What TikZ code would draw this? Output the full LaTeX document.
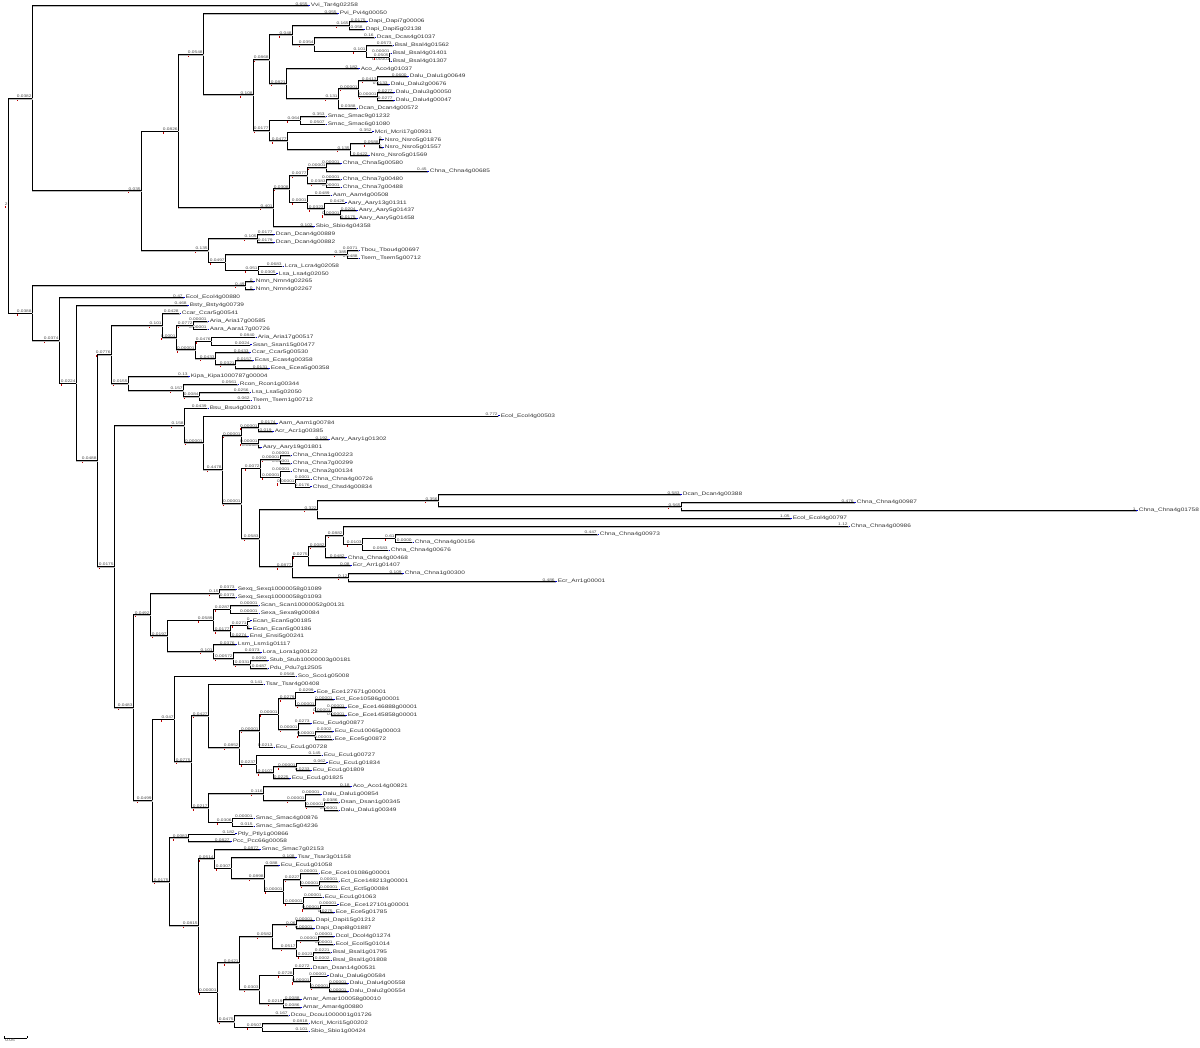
\documentclass[tikz,border=0pt]{standalone}
\usepackage{fontspec}
\setmainfont{Liberation Sans}
\newfontfamily\widefam[FakeStretch=1.3]{Liberation Sans}
\usepackage{tikz}
\usetikzlibrary{calc}
\newcommand{\blenfont}{\widefam\fontsize{3.7}{3.7}\selectfont}
\newcommand{\taxfont}{\widefam\fontsize{5.0}{5.0}\selectfont}
\tikzset{
  branch/.style={line width=0.6pt, black, line cap=rect,
    preaction={draw, gray!55, line width=1.2pt, transform canvas={shift={(0.6pt,-0.8pt)}}}},
  blenlbl/.style={font=\blenfont, text=black!70, inner sep=0.2pt, anchor=south east},
  taxlbl/.style={font=\taxfont, text=black!80, inner sep=0.3pt, anchor=west},
  tipmark/.style={blue!80!black, line width=0.8pt},
  bootmark/.style={red!75!black, line width=0.45pt},
}
% leaf: index, end x, branch length, taxon
\newcommand{\tip}[4]{%
  \coordinate (t#1) at (#2,{5.7+7.887*(#1-1)});
  \draw[tipmark] (t#1) -- ++(2,0);
  \node[blenlbl] at (t#1) {#3};
  \node[taxlbl] at ($(t#1)+(2.4,0)$) {#4};
}
% inner node: name, x, first child, last child, branch length
\newcommand{\clade}[5]{%
  \coordinate (#1-mid) at ($(#3)!.5!(#4)$);
  \coordinate (#1) at (#2,0 |- #1-mid);
  \draw[branch] (#1) |- (#3);
  \draw[branch] (#1) |- (#4);
  \node[blenlbl] (#1-lbl) at (#1) {#5};
  \draw[bootmark] ($(#1-lbl.south west)+(0.5,0.6)$) -- ++(0,2.2);
}

\begin{document}
\begin{tikzpicture}[x=1pt,y=-1pt]
  \useasboundingbox (0,0) rectangle (1200,1048);
  % Leaves
  \tip{1}{308}{0.655}{Vvi\_Tar4g02258}
  \tip{2}{337}{0.055}{Pvi\_Pvi4g00050}
  \tip{3}{366}{0.0175}{Dapi\_Dapi7g00006}
  \tip{4}{363}{0.058}{Dapi\_Dapi5g02138}
  \tip{5}{374}{0.16}{Dcas\_Dcas4g01037}
  \tip{6}{392}{0.0573}{Bsal\_Bsal4g01562}
  \tip{7}{390}{0.00001}{Bsal\_Bsal4g01401}
  \tip{8}{390}{0.00001}{Bsal\_Bsal4g01307}
  \tip{9}{358}{0.182}{Aco\_Aco4g01037}
  \tip{10}{407}{0.0600}{Dalu\_Dalu1g00649}
  \tip{11}{388}{0.0133}{Dalu\_Dalu2g00676}
  \tip{12}{393}{0.0277}{Dalu\_Dalu3g00050}
  \tip{13}{393}{0.0277}{Dalu\_Dalu4g00047}
  \tip{14}{356}{0.0388}{Dcan\_Dcan4g00572}
  \tip{15}{325}{0.353}{Smac\_Smac9g01232}
  \tip{16}{325}{0.0507}{Smac\_Smac6g01080}
  \tip{17}{372}{0.352}{Mcri\_Mcri17g00931}
  \tip{18}{382}{0}{Nsro\_Nsro5g01876}
  \tip{19}{382}{0}{Nsro\_Nsro5g01557}
  \tip{20}{368}{0.0422}{Nsro\_Nsro5g01569}
  \tip{21}{340}{0.00001}{Chna\_Chna5g00580}
  \tip{22}{427}{0.45}{Chna\_Chna4g00685}
  \tip{23}{340}{0.00001}{Chna\_Chna7g00480}
  \tip{24}{340}{0.00001}{Chna\_Chna7g00488}
  \tip{25}{330}{0.0489}{Aam\_Aam4g00508}
  \tip{26}{345}{0.0426}{Aary\_Aary13g01311}
  \tip{27}{356}{0.0204}{Aary\_Aary5g01437}
  \tip{28}{356}{0.0175}{Aary\_Aary5g01458}
  \tip{29}{313}{0.102}{Sbio\_Sbio4g04358}
  \tip{30}{273}{0.0177}{Dcan\_Dcan4g00889}
  \tip{31}{273}{0.0179}{Dcan\_Dcan4g00882}
  \tip{32}{358}{0.0071}{Tbou\_Tbou4g00697}
  \tip{33}{358}{0.0488}{Tsem\_Tsem5g00712}
  \tip{34}{282}{0.0683}{Lcra\_Lcra4g02058}
  \tip{35}{276}{0.0305}{Lsa\_Lsa4g02050}
  \tip{36}{253}{0}{Nmn\_Nmn4g02265}
  \tip{37}{253}{0}{Nmn\_Nmn4g02267}
  \tip{38}{183}{0.47}{Ecol\_Ecol4g00880}
  \tip{39}{187}{0.468}{Bsty\_Bsty4g00739}
  \tip{40}{179}{0.0428}{Ccar\_Ccar5g00541}
  \tip{41}{207}{0.00001}{Aria\_Aria17g00585}
  \tip{42}{207}{0.00001}{Aara\_Aara17g00726}
  \tip{43}{255}{0.0840}{Aria\_Aria17g00517}
  \tip{44}{250}{0.0024}{Ssan\_Ssan15g00477}
  \tip{45}{249}{0.0433}{Ccar\_Ccar5g00530}
  \tip{46}{252}{0.0157}{Ecas\_Ecas4g00358}
  \tip{47}{268}{0.0131}{Ecea\_Ecea5g00358}
  \tip{48}{188}{0.13}{Kipa\_Kipa1000787g00004}
  \tip{49}{237}{0.0561}{Rcon\_Rcon1g00344}
  \tip{50}{249}{0.0256}{Lsa\_Lsa5g02050}
  \tip{51}{250}{0.062}{Tsem\_Tsem1g00712}
  \tip{52}{207}{0.0439}{Bsu\_Bsu4g00201}
  \tip{53}{498}{0.772}{Ecol\_Ecol4g00503}
  \tip{54}{276}{0.0174}{Aam\_Aam1g00784}
  \tip{55}{272}{0.019}{Acr\_Acr1g00385}
  \tip{56}{328}{0.192}{Aary\_Aary1g01302}
  \tip{57}{260}{0.00001}{Aary\_Aary19g01801}
  \tip{58}{290}{0.00001}{Chna\_Chna1g00223}
  \tip{59}{290}{0.00001}{Chna\_Chna7g00299}
  \tip{60}{290}{0.00001}{Chna\_Chna2g00134}
  \tip{61}{310}{0.0001}{Chna\_Chna4g00726}
  \tip{62}{310}{0.0176}{Chsd\_Chsd4g00834}
  \tip{63}{680}{0.583}{Dcan\_Dcan4g00388}
  \tip{64}{854}{0.476}{Chna\_Chna4g00987}
  \tip{65}{1136}{1}{Chna\_Chna4g01758}
  \tip{66}{790}{1.05}{Ecol\_Ecol4g00797}
  \tip{67}{848}{1.12}{Chna\_Chna4g00986}
  \tip{68}{597}{0.447}{Chna\_Chna4g00973}
  \tip{69}{412}{0.0000}{Chna\_Chna4g00156}
  \tip{70}{388}{0.0583}{Chna\_Chna4g00676}
  \tip{71}{345}{0.0482}{Chna\_Chna4g00468}
  \tip{72}{350}{0.08}{Ecr\_Arr1g01407}
  \tip{73}{402}{0.109}{Chna\_Chna1g00300}
  \tip{74}{555}{0.486}{Ecr\_Arr1g00001}
  \tip{75}{235}{0.0373}{Sexq\_Sexq10000058g01089}
  \tip{76}{235}{0.0373}{Sexq\_Sexq10000058g01093}
  \tip{77}{258}{0.00001}{Scan\_Scan10000052g00131}
  \tip{78}{258}{0.00001}{Sexa\_Sexa9g00084}
  \tip{79}{250}{0}{Ecan\_Ecan5g00185}
  \tip{80}{250}{0}{Ecan\_Ecan5g00186}
  \tip{81}{247}{0.0274}{Ensi\_Ensi5g00241}
  \tip{82}{235}{0.0376}{Lsm\_Lsm1g01117}
  \tip{83}{260}{0.0373}{Lora\_Lora1g00122}
  \tip{84}{267}{0.0092}{Stub\_Stub10000003g00181}
  \tip{85}{267}{0.0487}{Pdu\_Pdu7g12505}
  \tip{86}{295}{0.0568}{Sco\_Sco1g05008}
  \tip{87}{263}{0.141}{Tsar\_Tsar4g00408}
  \tip{88}{314}{0.0299}{Ece\_Ece127671g00001}
  \tip{89}{333}{0.00001}{Ect\_Ece10586g00001}
  \tip{90}{345}{0.00001}{Ece\_Ece146888g00001}
  \tip{91}{345}{0.00001}{Ece\_Ece145858g00001}
  \tip{92}{310}{0.0273}{Ecu\_Ecu4g00877}
  \tip{93}{332}{0.0302}{Ecu\_Ecu10065g00003}
  \tip{94}{332}{0.00001}{Ece\_Ece5g00872}
  \tip{95}{273}{0.0213}{Ecu\_Ecu1g00728}
  \tip{96}{321}{0.145}{Ecu\_Ecu1g00727}
  \tip{97}{326}{0.062}{Ecu\_Ecu1g01834}
  \tip{98}{310}{0.0233}{Ecu\_Ecu1g01809}
  \tip{99}{289}{0.0225}{Ecu\_Ecu1g01825}
  \tip{100}{350}{0.18}{Aco\_Aco14g00821}
  \tip{101}{320}{0.00001}{Dalu\_Dalu1g00854}
  \tip{102}{338}{0.0386}{Dsan\_Dsan1g00345}
  \tip{103}{338}{0.00001}{Dalu\_Dalu1g00349}
  \tip{104}{253}{0.00001}{Smac\_Smac4g00876}
  \tip{105}{253}{0.015}{Smac\_Smac5g04236}
  \tip{106}{235}{0.182}{Ptly\_Ptly1g00866}
  \tip{107}{230}{0.0827}{Pcc\_Pcc66g00058}
  \tip{108}{259}{0.0877}{Smac\_Smac7g02153}
  \tip{109}{295}{0.108}{Tsar\_Tsar3g01158}
  \tip{110}{278}{0.088}{Ecu\_Ecu1g01058}
  \tip{111}{318}{0.00001}{Ece\_Ece101086g00001}
  \tip{112}{338}{0.00001}{Ect\_Ece148213g00001}
  \tip{113}{338}{0.00001}{Ect\_Ect5g00084}
  \tip{114}{322}{0.00001}{Ecu\_Ecu1g01063}
  \tip{115}{337}{0.00001}{Ece\_Ece127101g00001}
  \tip{116}{333}{0.0275}{Ece\_Ece5g01785}
  \tip{117}{313}{0.00001}{Dapi\_Dapi15g01212}
  \tip{118}{313}{0.00001}{Dapi\_Dapi8g01887}
  \tip{119}{333}{0.00001}{Dcol\_Dcol4g01274}
  \tip{120}{333}{0.00001}{Ecol\_Ecol5g01014}
  \tip{121}{330}{0.0221}{Bsal\_Bsal1g01795}
  \tip{122}{330}{0.0002}{Bsal\_Bsal1g01808}
  \tip{123}{310}{0.0272}{Dsan\_Dsan14g00531}
  \tip{124}{327}{0.00001}{Dalu\_Dalu6g00584}
  \tip{125}{347}{0.00001}{Dalu\_Dalu4g00558}
  \tip{126}{347}{0.00001}{Dalu\_Dalu2g00554}
  \tip{127}{300}{0.0088}{Amar\_Amar100058g00010}
  \tip{128}{300}{0.0086}{Amar\_Amar4g00880}
  \tip{129}{288}{0.167}{Dcou\_Dcou1000001g01726}
  \tip{130}{308}{0.0818}{Mcri\_Mcri15g00202}
  \tip{131}{308}{0.101}{Sbio\_Sbio1g00424}
  % Upper clade
  \clade{G1d}{389}{t7}{t8}{0.0505}
  \clade{G1c}{366}{t6}{G1d}{0.101}
  \clade{G1b}{314}{t5}{G1c}{0.0354}
  \clade{G1a}{349}{t3}{t4}{0.165}
  \clade{G1}{292}{G1a}{G1b}{0.048}
  \clade{G2c}{377}{t10}{t11}{0.0413}
  \clade{G2d}{377}{t12}{t13}{0.00001}
  \clade{G2b}{358}{G2c}{G2d}{0.00001}
  \clade{G2a}{338}{G2b}{t14}{0.131}
  \clade{G2}{286}{t9}{G2a}{0.0821}
  \clade{G}{269}{G1}{G2}{0.0868}
  \clade{H1}{300}{t15}{t16}{0.064}
  \clade{H4}{379}{t18}{t19}{0.0588}
  \clade{H3}{350}{H4}{t20}{0.135}
  \clade{H2}{287}{t17}{H3}{0.0477}
  \clade{H}{269}{H1}{H2}{0.0177}
  \clade{F}{253}{G}{H}{0.108}
  \clade{D}{203}{t2}{F}{0.0548}
  \clade{E2a}{326}{t21}{t22}{0.00001}
  \clade{E2b}{326}{t23}{t24}{0.0383}
  \clade{E2}{307}{E2a}{E2b}{0.0077}
  \clade{E3b}{340}{t27}{t28}{0.00001}
  \clade{E3a}{324}{t26}{E3b}{0.0323}
  \clade{E3}{307}{t25}{E3a}{0.0001}
  \clade{E1}{289}{E2}{E3}{0.0308}
  \clade{E}{273}{E1}{t29}{0.401}
  \clade{C}{178}{D}{E}{0.0826}
  \clade{K1}{257}{t30}{t31}{0.105}
  \clade{K3}{347}{t32}{t33}{0.385}
  \clade{K4}{258}{t34}{t35}{0.051}
  \clade{K2}{225}{K3}{K4}{0.0497}
  \clade{K}{208}{K1}{K2}{0.135}
  \clade{B}{141}{C}{K}{0.035}
  \clade{A}{32}{t1}{B}{0.0382}
  % Lower clade
  \clade{M1}{245}{t36}{t37}{0.49}
  \clade{M10}{193}{t41}{t42}{0.0772}
  \clade{M12}{211}{t43}{t44}{0.0476}
  \clade{M14}{235}{t46}{t47}{0.0321}
  \clade{M13}{215}{t45}{M14}{0.0433}
  \clade{M11}{195}{M12}{M13}{0.00001}
  \clade{M9}{176}{M10}{M11}{0.0001}
  \clade{M7}{162}{t40}{M9}{0.101}
  \clade{M16}{199}{t50}{t51}{0.0084}
  \clade{M15}{183}{t49}{M16}{0.157}
  \clade{M8}{128}{t48}{M15}{0.0155}
  \clade{M5}{111}{M7}{M8}{0.0776}
  \clade{P5}{258}{t54}{t55}{0.00001}
  \clade{P6}{258}{t56}{t57}{0.00001}
  \clade{P3}{241}{P5}{P6}{0.00001}
  \clade{P9}{280}{t58}{t59}{0.00001}
  \clade{P11}{295}{t61}{t62}{0.00001}
  \clade{P10}{280}{t60}{P11}{0.00001}
  \clade{P7}{260}{P9}{P10}{0.0072}
  \clade{Nc}{681}{t64}{t65}{0.565}
  \clade{Nb}{438}{t63}{Nc}{0.356}
  \clade{Na}{317}{Nb}{t66}{0.322}
  \clade{P18}{395}{t68}{t69}{0.61}
  \clade{P17}{362}{P18}{t70}{0.0103}
  \clade{P16}{343}{t67}{P17}{0.0882}
  \clade{P15}{325}{P16}{t71}{0.0082}
  \clade{P13}{308}{P15}{t72}{0.0275}
  \clade{P14}{348}{t73}{t74}{0.12}
  \clade{P12}{292}{P13}{P14}{0.0877}
  \clade{P8}{259}{Na}{P12}{0.0583}
  \clade{P4}{241}{P7}{P8}{0.00001}
  \clade{P2}{222}{P3}{P4}{0.4478}
  \clade{P1}{203}{t53}{P2}{0.00001}
  \clade{P}{184}{t52}{P1}{0.158}
  \clade{Q3}{219}{t75}{t76}{0.15}
  \clade{Q7}{230}{t77}{t78}{0.0287}
  \clade{Q9}{247}{t79}{t80}{0.0271}
  \clade{Q8}{230}{Q9}{t81}{0.0177}
  \clade{Q5}{213}{Q7}{Q8}{0.0589}
  \clade{Q11}{250}{t84}{t85}{0.0331}
  \clade{Q10}{233}{t83}{Q11}{0.00572}
  \clade{Q6}{213}{t82}{Q10}{0.101}
  \clade{Q4}{167}{Q5}{Q6}{0.0197}
  \clade{Q1}{150}{Q3}{Q4}{0.0492}
  \clade{S11}{331}{t90}{t91}{0.00001}
  \clade{S10}{315}{t89}{S11}{0.00001}
  \clade{S8}{295}{t88}{S10}{0.0279}
  \clade{S12}{315}{t93}{t94}{0.00001}
  \clade{S9}{298}{t92}{S12}{0.00001}
  \clade{S7}{278}{S8}{S9}{0.00001}
  \clade{S5}{259}{S7}{t95}{0.00001}
  \clade{S14}{296}{t97}{t98}{0.00001}
  \clade{S13}{273}{S14}{t99}{0.0107}
  \clade{S6}{256}{t96}{S13}{0.0237}
  \clade{S4}{239}{S5}{S6}{0.0852}
  \clade{S2}{208}{t87}{S4}{0.0427}
  \clade{S18}{324}{t102}{t103}{0.00001}
  \clade{S17}{305}{t101}{S18}{0.00001}
  \clade{S15}{263}{t100}{S17}{0.116}
  \clade{S16}{232}{t104}{t105}{0.0306}
  \clade{S3}{208}{S15}{S16}{0.0217}
  \clade{S1}{191}{S2}{S3}{0.0775}
  \clade{S}{174}{t86}{S1}{0.047}
  \clade{T1}{188}{t106}{t107}{0.0083}
  \clade{T10}{319}{t112}{t113}{0.00001}
  \clade{T8}{300}{t111}{T10}{0.0227}
  \clade{T11}{320}{t115}{t116}{0.00001}
  \clade{T9}{303}{t114}{T11}{0.00001}
  \clade{T7}{283}{T8}{T9}{0.00001}
  \clade{T6}{264}{t110}{T7}{0.0898}
  \clade{T5}{231}{t109}{T6}{0.0307}
  \clade{T3}{214}{t108}{T5}{0.0514}
  \clade{T16}{296}{t117}{t118}{0.06}
  \clade{T18}{318}{t119}{t120}{0.00001}
  \clade{T19}{313}{t121}{t122}{0.0023}
  \clade{T17}{296}{T18}{T19}{0.0517}
  \clade{T14}{272}{T16}{T17}{0.0582}
  \clade{T23}{329}{t125}{t126}{0.00001}
  \clade{T22}{310}{t124}{T23}{0.00001}
  \clade{T20}{293}{t123}{T22}{0.0728}
  \clade{T21}{283}{t127}{t128}{0.0219}
  \clade{T15}{259}{T20}{T21}{0.0303}
  \clade{T12}{239}{T14}{T15}{0.0421}
  \clade{T24}{262}{t130}{t131}{0.0507}
  \clade{T13}{234}{t129}{T24}{0.0475}
  \clade{T4}{217}{T12}{T13}{0.00001}
  \clade{T2}{198}{T3}{T4}{0.0815}
  \clade{T}{169}{T1}{T2}{0.0175}
  \clade{Q2}{152}{S}{T}{0.0499}
  \clade{Q}{133}{Q1}{Q2}{0.0483}
  \clade{M6}{114}{P}{Q}{0.0175}
  \clade{M4}{97}{M5}{M6}{0.0488}
  \clade{M3}{76}{t39}{M4}{0.0224}
  \clade{M2}{59}{t38}{M3}{0.0374}
  \clade{M}{32}{M1}{M2}{0.0388}
  % Root
  \clade{root}{8}{A}{M}{2}
  % Scale bar
  \coordinate (sb0) at (4,1038);
  \coordinate (sb1) at (27,1038);
  \draw[line width=0.5pt] (sb0) -- (sb1);
  \draw[line width=0.5pt] (sb0) -- ++(0,-2);
  \draw[line width=0.5pt] (sb1) -- ++(0,-2);
  \node[blenlbl, anchor=north west] (sblbl) at ($(sb0)+(1,1)$) {0.05};
\end{tikzpicture}
\end{document}
